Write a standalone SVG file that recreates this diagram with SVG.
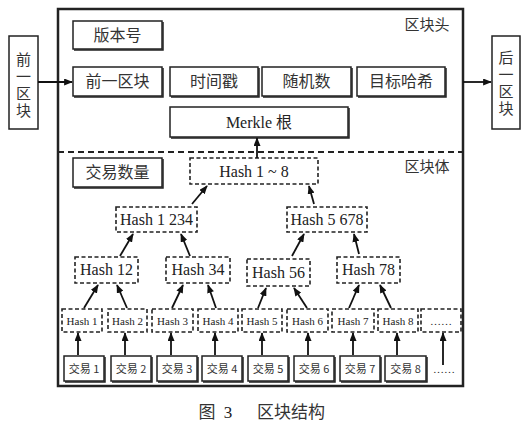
<svg xmlns="http://www.w3.org/2000/svg" width="531" height="427" viewBox="0 0 531 427">
<style>
.box{fill:#fff;stroke:#222;stroke-width:1.5}
.sh{fill:none;stroke:#222;stroke-width:1.5}
.dbox{fill:#fff;stroke:#222;stroke-width:1.6;stroke-dasharray:4 2.5}
.zh{font-family:"Noto Sans CJK SC",sans-serif;fill:#333;text-anchor:middle}
.en{font-family:"Liberation Serif","Noto Sans CJK SC",serif;fill:#222;text-anchor:middle}
.vt{font-family:"Noto Sans CJK SC",sans-serif;fill:#333;writing-mode:vertical-rl;text-anchor:start;font-size:15px;letter-spacing:2px}
.c{stroke:#111;stroke-width:1.8;fill:none;marker-end:url(#ah)}
</style>
<defs>
<marker id="ah" viewBox="0 0 10 8" refX="9" refY="4" markerWidth="9" markerHeight="7" markerUnits="userSpaceOnUse" orient="auto">
<path d="M0,0 L10,4 L0,8 Z" fill="#111"/>
</marker>
</defs>
<rect width="531" height="427" fill="#fff"/>

<g id="frame">
<rect x="58" y="9" width="405" height="377" fill="none" stroke="#222" stroke-width="2.5"/>
<line x1="58" y1="152" x2="463" y2="152" stroke="#222" stroke-width="1.8" stroke-dasharray="6 4"/>
<text class="zh" x="427" y="30" font-size="15">区块头</text>
<text class="zh" x="427" y="172" font-size="15">区块体</text>
</g>

<g id="prev">
<rect class="box" x="9" y="36" width="29" height="93"/>
<text class="vt" x="23.5" y="52">前一区块</text>
</g>
<g id="next">
<rect class="box" x="492" y="36" width="28" height="93"/>
<text class="vt" x="506" y="50">后一区块</text>
</g>

<g id="version"><rect class="box" x="73" y="21" width="89" height="28"/><path class="sh" d="M163,22 V50 H74"/><text class="zh" x="117.5" y="41" font-size="16">版本号</text></g>
<g id="prevhash"><rect class="box" x="73" y="67" width="89" height="29"/><path class="sh" d="M163,68 V97 H74"/><text class="zh" x="117.5" y="87" font-size="16">前一区块</text></g>
<g id="time"><rect class="box" x="170" y="67" width="88" height="29"/><path class="sh" d="M259,68 V97 H171"/><text class="zh" x="214" y="87" font-size="16">时间戳</text></g>
<g id="nonce"><rect class="box" x="262" y="67" width="89" height="29"/><path class="sh" d="M352,68 V97 H263"/><text class="zh" x="306.5" y="87" font-size="16">随机数</text></g>
<g id="target"><rect class="box" x="357" y="67" width="88" height="29"/><path class="sh" d="M446,68 V97 H358"/><text class="zh" x="401" y="87" font-size="16">目标哈希</text></g>
<g id="merkle"><rect class="box" x="170" y="107" width="178" height="30"/><path class="sh" d="M349,108 V138 H171"/><text class="en" x="259" y="128" font-size="16">Merkle <tspan font-family="Noto Sans CJK SC">根</tspan></text></g>
<g id="count"><rect class="box" x="73" y="158" width="89" height="29"/><path class="sh" d="M163,159 V188 H74"/><text class="zh" x="117.5" y="178" font-size="16">交易数量</text></g>

<g id="h18"><rect class="dbox" x="190" y="158" width="128" height="26"/><text class="en" x="254" y="177" font-size="16">Hash 1 ~ 8</text></g>
<g id="h1234"><rect class="dbox" x="116" y="207" width="81" height="25"/><text class="en" x="156.5" y="225" font-size="16">Hash 1 234</text></g>
<g id="h5678"><rect class="dbox" x="287" y="207" width="80" height="25"/><text class="en" x="327" y="225" font-size="16">Hash 5 678</text></g>
<g id="h12"><rect class="dbox" x="75" y="257" width="63" height="26"/><text class="en" x="106.5" y="275" font-size="16">Hash 12</text></g>
<g id="h34"><rect class="dbox" x="166" y="257" width="64" height="26"/><text class="en" x="198" y="275" font-size="16">Hash 34</text></g>
<g id="h56"><rect class="dbox" x="247" y="259" width="63" height="27"/><text class="en" x="278.5" y="278" font-size="16">Hash 56</text></g>
<g id="h78"><rect class="dbox" x="337" y="257" width="63" height="26"/><text class="en" x="368.5" y="275" font-size="16">Hash 78</text></g>

<g id="ha1"><rect class="dbox" x="62" y="309" width="40" height="23"/><text class="en" x="82" y="324.5" font-size="11">Hash 1</text></g>
<g id="ha2"><rect class="dbox" x="108" y="309" width="39" height="23"/><text class="en" x="127.5" y="324.5" font-size="11">Hash 2</text></g>
<g id="ha3"><rect class="dbox" x="152" y="309" width="41" height="23"/><text class="en" x="172.5" y="324.5" font-size="11">Hash 3</text></g>
<g id="ha4"><rect class="dbox" x="198" y="309" width="40" height="23"/><text class="en" x="218" y="324.5" font-size="11">Hash 4</text></g>
<g id="ha5"><rect class="dbox" x="242" y="309" width="40" height="23"/><text class="en" x="262" y="324.5" font-size="11">Hash 5</text></g>
<g id="ha6"><rect class="dbox" x="287" y="309" width="41" height="23"/><text class="en" x="307.5" y="324.5" font-size="11">Hash 6</text></g>
<g id="ha7"><rect class="dbox" x="332" y="309" width="42" height="23"/><text class="en" x="353" y="324.5" font-size="11">Hash 7</text></g>
<g id="ha8"><rect class="dbox" x="378" y="309" width="40" height="23"/><text class="en" x="398" y="324.5" font-size="11">Hash 8</text></g>
<g id="hax"><rect class="dbox" x="421" y="309" width="40" height="23"/><text class="en" x="441" y="324.5" font-size="11">……</text></g>

<g id="t1"><rect class="box" x="64" y="356" width="40" height="25"/><path class="sh" d="M105,357 V382 H65"/><text class="zh" x="84" y="373" font-size="11">交易 1</text></g>
<g id="t2"><rect class="box" x="111" y="356" width="40" height="25"/><path class="sh" d="M152,357 V382 H112"/><text class="zh" x="131" y="373" font-size="11">交易 2</text></g>
<g id="t3"><rect class="box" x="157" y="356" width="40" height="25"/><path class="sh" d="M198,357 V382 H158"/><text class="zh" x="177" y="373" font-size="11">交易 3</text></g>
<g id="t4"><rect class="box" x="202" y="356" width="40" height="25"/><path class="sh" d="M243,357 V382 H203"/><text class="zh" x="222" y="373" font-size="11">交易 4</text></g>
<g id="t5"><rect class="box" x="248" y="356" width="40" height="25"/><path class="sh" d="M289,357 V382 H249"/><text class="zh" x="268" y="373" font-size="11">交易 5</text></g>
<g id="t6"><rect class="box" x="294" y="356" width="40" height="25"/><path class="sh" d="M335,357 V382 H295"/><text class="zh" x="314" y="373" font-size="11">交易 6</text></g>
<g id="t7"><rect class="box" x="340" y="356" width="40" height="25"/><path class="sh" d="M381,357 V382 H341"/><text class="zh" x="360" y="373" font-size="11">交易 7</text></g>
<g id="t8"><rect class="box" x="385" y="356" width="41" height="25"/><path class="sh" d="M427,357 V382 H386"/><text class="zh" x="405.5" y="373" font-size="11">交易 8</text></g>
<g id="tx"><text class="en" x="444" y="373" font-size="11">……</text></g>

<g id="connectors">
<line class="c" x1="38" y1="82" x2="72" y2="82"/>
<line class="c" x1="463" y1="82" x2="491" y2="82"/>
<line class="c" x1="257" y1="158" x2="257" y2="138"/>
<line class="c" x1="192" y1="204" x2="207" y2="186"/>
<line class="c" x1="314" y1="204" x2="309" y2="186"/>
<line class="c" x1="120" y1="256" x2="133" y2="234"/>
<line class="c" x1="190" y1="256" x2="181" y2="234"/>
<line class="c" x1="292" y1="256" x2="304" y2="234"/>
<line class="c" x1="359" y1="254" x2="354" y2="234"/>
<line class="c" x1="84" y1="308" x2="98" y2="285"/>
<line class="c" x1="127" y1="308" x2="117" y2="285"/>
<line class="c" x1="172" y1="308" x2="183" y2="285"/>
<line class="c" x1="216" y1="308" x2="208" y2="285"/>
<line class="c" x1="258" y1="308" x2="266" y2="288"/>
<line class="c" x1="307" y1="308" x2="294" y2="288"/>
<line class="c" x1="349" y1="308" x2="359" y2="285"/>
<line class="c" x1="391" y1="308" x2="380" y2="285"/>
<line class="c" x1="78" y1="355" x2="78" y2="333"/>
<line class="c" x1="125" y1="355" x2="125" y2="333"/>
<line class="c" x1="171" y1="355" x2="171" y2="333"/>
<line class="c" x1="215" y1="355" x2="215" y2="333"/>
<line class="c" x1="262" y1="355" x2="262" y2="333"/>
<line class="c" x1="308" y1="355" x2="308" y2="333"/>
<line class="c" x1="353" y1="355" x2="353" y2="333"/>
<line class="c" x1="397" y1="355" x2="397" y2="333"/>
<line class="c" x1="443" y1="365" x2="443" y2="333"/>
</g>

<g id="caption">
<text class="zh" x="207" y="418" font-size="17">图</text>
<text class="en" x="228" y="418" font-size="17">3</text>
<text class="zh" x="291" y="418" font-size="17">区块结构</text>
</g>
</svg>
